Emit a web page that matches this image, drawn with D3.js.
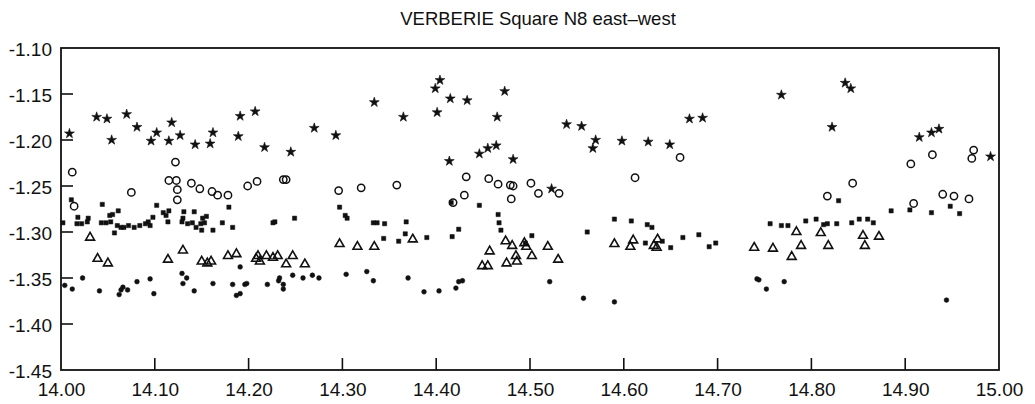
<!DOCTYPE html>
<html><head><meta charset="utf-8">
<script src="https://cdn.jsdelivr.net/npm/d3@7/dist/d3.min.js"></script>
<style>body{margin:0;background:#fff}svg{display:block}</style>
</head><body>
<svg id="c" width="1035" height="404"></svg>
<script>
const title = "VERBERIE Square N8 east\u2013west";
const xTicks = [14.00,14.10,14.20,14.30,14.40,14.50,14.60,14.70,14.80,14.90,15.00];
const yTicks = [-1.10,-1.15,-1.20,-1.25,-1.30,-1.35,-1.40,-1.45];

const stars = [[14.009,-1.193],[14.038,-1.175],[14.049,-1.177],[14.054,-1.200],[14.070,-1.172],[14.081,-1.186],[14.096,-1.201],[14.102,-1.192],[14.118,-1.181],[14.115,-1.201],[14.127,-1.195],[14.143,-1.205],[14.159,-1.204],[14.162,-1.192],[14.189,-1.196],[14.191,-1.174],[14.207,-1.169],[14.217,-1.208],[14.245,-1.213],[14.270,-1.187],[14.293,-1.195],[14.334,-1.159],[14.365,-1.175],[14.399,-1.144],[14.404,-1.135],[14.401,-1.170],[14.415,-1.155],[14.433,-1.157],[14.473,-1.147],[14.465,-1.175],[14.414,-1.223],[14.446,-1.215],[14.455,-1.209],[14.464,-1.206],[14.482,-1.221],[14.523,-1.253],[14.539,-1.183],[14.555,-1.185],[14.570,-1.200],[14.567,-1.209],[14.598,-1.201],[14.626,-1.202],[14.649,-1.205],[14.670,-1.177],[14.684,-1.176],[14.768,-1.151],[14.836,-1.138],[14.842,-1.144],[14.822,-1.186],[14.915,-1.197],[14.928,-1.192],[14.936,-1.188],[14.991,-1.218]];

const circles = [[14.012,-1.235],[14.014,-1.272],[14.075,-1.257],[14.122,-1.224],[14.115,-1.244],[14.123,-1.244],[14.124,-1.254],[14.124,-1.265],[14.139,-1.247],[14.148,-1.253],[14.161,-1.256],[14.167,-1.260],[14.178,-1.260],[14.199,-1.250],[14.209,-1.245],[14.237,-1.243],[14.240,-1.243],[14.296,-1.255],[14.320,-1.252],[14.358,-1.249],[14.432,-1.240],[14.456,-1.242],[14.466,-1.248],[14.479,-1.249],[14.482,-1.250],[14.430,-1.260],[14.418,-1.268],[14.480,-1.264],[14.501,-1.247],[14.509,-1.258],[14.531,-1.258],[14.612,-1.241],[14.660,-1.219],[14.817,-1.261],[14.844,-1.247],[14.906,-1.226],[14.909,-1.269],[14.929,-1.216],[14.940,-1.259],[14.952,-1.261],[14.968,-1.264],[14.971,-1.220],[14.973,-1.211]];

const squares = [[14.011,-1.265],[14.044,-1.270],[14.102,-1.271],[14.179,-1.273],[14.061,-1.277],[14.052,-1.282],[14.055,-1.281],[14.109,-1.279],[14.115,-1.277],[14.131,-1.278],[14.142,-1.278],[14.155,-1.283],[14.018,-1.284],[14.029,-1.285],[14.098,-1.284],[14.112,-1.282],[14.130,-1.285],[14.151,-1.285],[14.002,-1.290],[14.017,-1.291],[14.022,-1.291],[14.028,-1.289],[14.043,-1.290],[14.048,-1.290],[14.053,-1.289],[14.060,-1.293],[14.057,-1.301],[14.064,-1.295],[14.067,-1.295],[14.072,-1.293],[14.078,-1.295],[14.084,-1.293],[14.090,-1.291],[14.095,-1.293],[14.093,-1.289],[14.114,-1.289],[14.129,-1.289],[14.135,-1.291],[14.140,-1.290],[14.144,-1.295],[14.149,-1.291],[14.150,-1.298],[14.153,-1.290],[14.162,-1.298],[14.172,-1.290],[14.183,-1.295],[14.226,-1.290],[14.228,-1.289],[14.249,-1.285],[14.297,-1.273],[14.303,-1.282],[14.305,-1.285],[14.333,-1.290],[14.337,-1.290],[14.345,-1.291],[14.368,-1.289],[14.367,-1.302],[14.360,-1.310],[14.344,-1.307],[14.390,-1.306],[14.417,-1.305],[14.424,-1.297],[14.416,-1.268],[14.446,-1.271],[14.466,-1.281],[14.467,-1.290],[14.469,-1.298],[14.502,-1.304],[14.561,-1.300],[14.590,-1.286],[14.608,-1.288],[14.625,-1.292],[14.630,-1.295],[14.663,-1.306],[14.680,-1.303],[14.623,-1.312],[14.641,-1.310],[14.650,-1.317],[14.691,-1.316],[14.698,-1.312],[14.495,-1.312],[14.829,-1.266],[14.756,-1.291],[14.768,-1.293],[14.775,-1.293],[14.794,-1.288],[14.805,-1.286],[14.813,-1.292],[14.817,-1.291],[14.827,-1.291],[14.843,-1.290],[14.851,-1.286],[14.860,-1.286],[14.866,-1.290],[14.885,-1.277],[14.905,-1.276],[14.928,-1.279],[14.948,-1.272],[14.958,-1.280]];

const triangles = [[14.031,-1.306],[14.039,-1.329],[14.050,-1.334],[14.114,-1.330],[14.130,-1.320],[14.150,-1.332],[14.156,-1.334],[14.160,-1.332],[14.178,-1.326],[14.187,-1.324],[14.208,-1.329],[14.210,-1.326],[14.212,-1.332],[14.219,-1.326],[14.226,-1.328],[14.231,-1.326],[14.247,-1.326],[14.240,-1.335],[14.260,-1.335],[14.297,-1.313],[14.316,-1.316],[14.334,-1.316],[14.375,-1.308],[14.457,-1.321],[14.474,-1.310],[14.481,-1.315],[14.494,-1.312],[14.496,-1.316],[14.485,-1.326],[14.449,-1.337],[14.455,-1.337],[14.475,-1.334],[14.486,-1.332],[14.502,-1.326],[14.519,-1.316],[14.530,-1.330],[14.590,-1.313],[14.610,-1.309],[14.607,-1.316],[14.636,-1.308],[14.632,-1.315],[14.635,-1.317],[14.739,-1.317],[14.759,-1.318],[14.784,-1.300],[14.810,-1.301],[14.789,-1.315],[14.818,-1.315],[14.779,-1.327],[14.855,-1.304],[14.872,-1.305],[14.857,-1.315]];

const dots = [[14.004,-1.358],[14.012,-1.362],[14.023,-1.350],[14.041,-1.364],[14.062,-1.368],[14.064,-1.363],[14.066,-1.360],[14.071,-1.363],[14.081,-1.354],[14.095,-1.351],[14.099,-1.367],[14.129,-1.345],[14.134,-1.350],[14.130,-1.356],[14.142,-1.364],[14.162,-1.356],[14.183,-1.357],[14.187,-1.369],[14.191,-1.367],[14.191,-1.338],[14.196,-1.357],[14.198,-1.356],[14.220,-1.357],[14.232,-1.353],[14.237,-1.357],[14.237,-1.362],[14.233,-1.350],[14.247,-1.347],[14.258,-1.350],[14.268,-1.347],[14.275,-1.350],[14.304,-1.346],[14.326,-1.343],[14.333,-1.353],[14.370,-1.350],[14.387,-1.365],[14.403,-1.364],[14.421,-1.361],[14.424,-1.354],[14.428,-1.353],[14.521,-1.354],[14.557,-1.372],[14.590,-1.376],[14.742,-1.351],[14.744,-1.352],[14.752,-1.362],[14.771,-1.354],[14.944,-1.374]];

const svg = d3.select("#c");
const L = 61, R = 999, T = 48, B = 370;
const x = d3.scaleLinear().domain([14, 15]).range([L, R]);
const y = d3.scaleLinear().domain([-1.10, -1.45]).range([T, B]);
const font = "'Liberation Sans', Arial, Helvetica, sans-serif";
const fmt = d => d3.format(".2f")(d).replace("\u2212", "-");

svg.append("text").attr("x", 538).attr("y", 25).attr("text-anchor", "middle")
  .attr("font-family", font).attr("font-size", 18.5).attr("fill", "#111").text(title);

const xAxis = d3.axisBottom(x).tickValues(xTicks).tickSize(0).tickPadding(10).tickFormat(fmt);
const gx = svg.append("g").attr("transform", `translate(0,${B})`).call(xAxis);
gx.select(".domain").remove();
gx.selectAll("text").attr("font-family", font).attr("font-size", 19).attr("fill", "#111").attr("dy", "0.85em");

const yAxis = d3.axisLeft(y).tickValues(yTicks).tickSize(0).tickPadding(9).tickFormat(fmt);
const gy = svg.append("g").attr("transform", `translate(${L},0)`).call(yAxis);
gy.select(".domain").remove();
gy.selectAll("text").attr("font-family", font).attr("font-size", 19).attr("fill", "#111").attr("dy", "0.4em");

svg.append("g").selectAll("line").data(xTicks.slice(1, -1)).join("line")
  .attr("x1", d => x(d)).attr("x2", d => x(d)).attr("y1", B).attr("y2", B - 12)
  .attr("stroke", "#111").attr("stroke-width", 1.6);
svg.append("g").selectAll("line").data(yTicks.slice(1, -1)).join("line")
  .attr("x1", L).attr("x2", L + 12).attr("y1", d => y(d)).attr("y2", d => y(d))
  .attr("stroke", "#111").attr("stroke-width", 1.6);

svg.append("rect").attr("x", L).attr("y", T).attr("width", R - L).attr("height", B - T)
  .attr("fill", "none").attr("stroke", "#111").attr("stroke-width", 1.8);

const g = svg.append("g");
function plot(data, type, size, filled, sw) {
  const sym = d3.symbol().type(type).size(size);
  g.append("g").selectAll("path").data(data).join("path")
    .attr("transform", d => `translate(${x(d[0])},${y(d[1])})`)
    .attr("d", sym)
    .attr("fill", filled ? "#111" : "none")
    .attr("stroke", "#111").attr("stroke-width", sw);
}
plot(circles, d3.symbolCircle, 42, false, 1.5);
plot(triangles, d3.symbolTriangle, 34, false, 1.6);
plot(squares, d3.symbolSquare, 18, true, 0.5);
plot(dots, d3.symbolCircle, 18, true, 0.5);
plot(stars, d3.symbolStar, 30, true, 0.6);
</script>
</body></html>
